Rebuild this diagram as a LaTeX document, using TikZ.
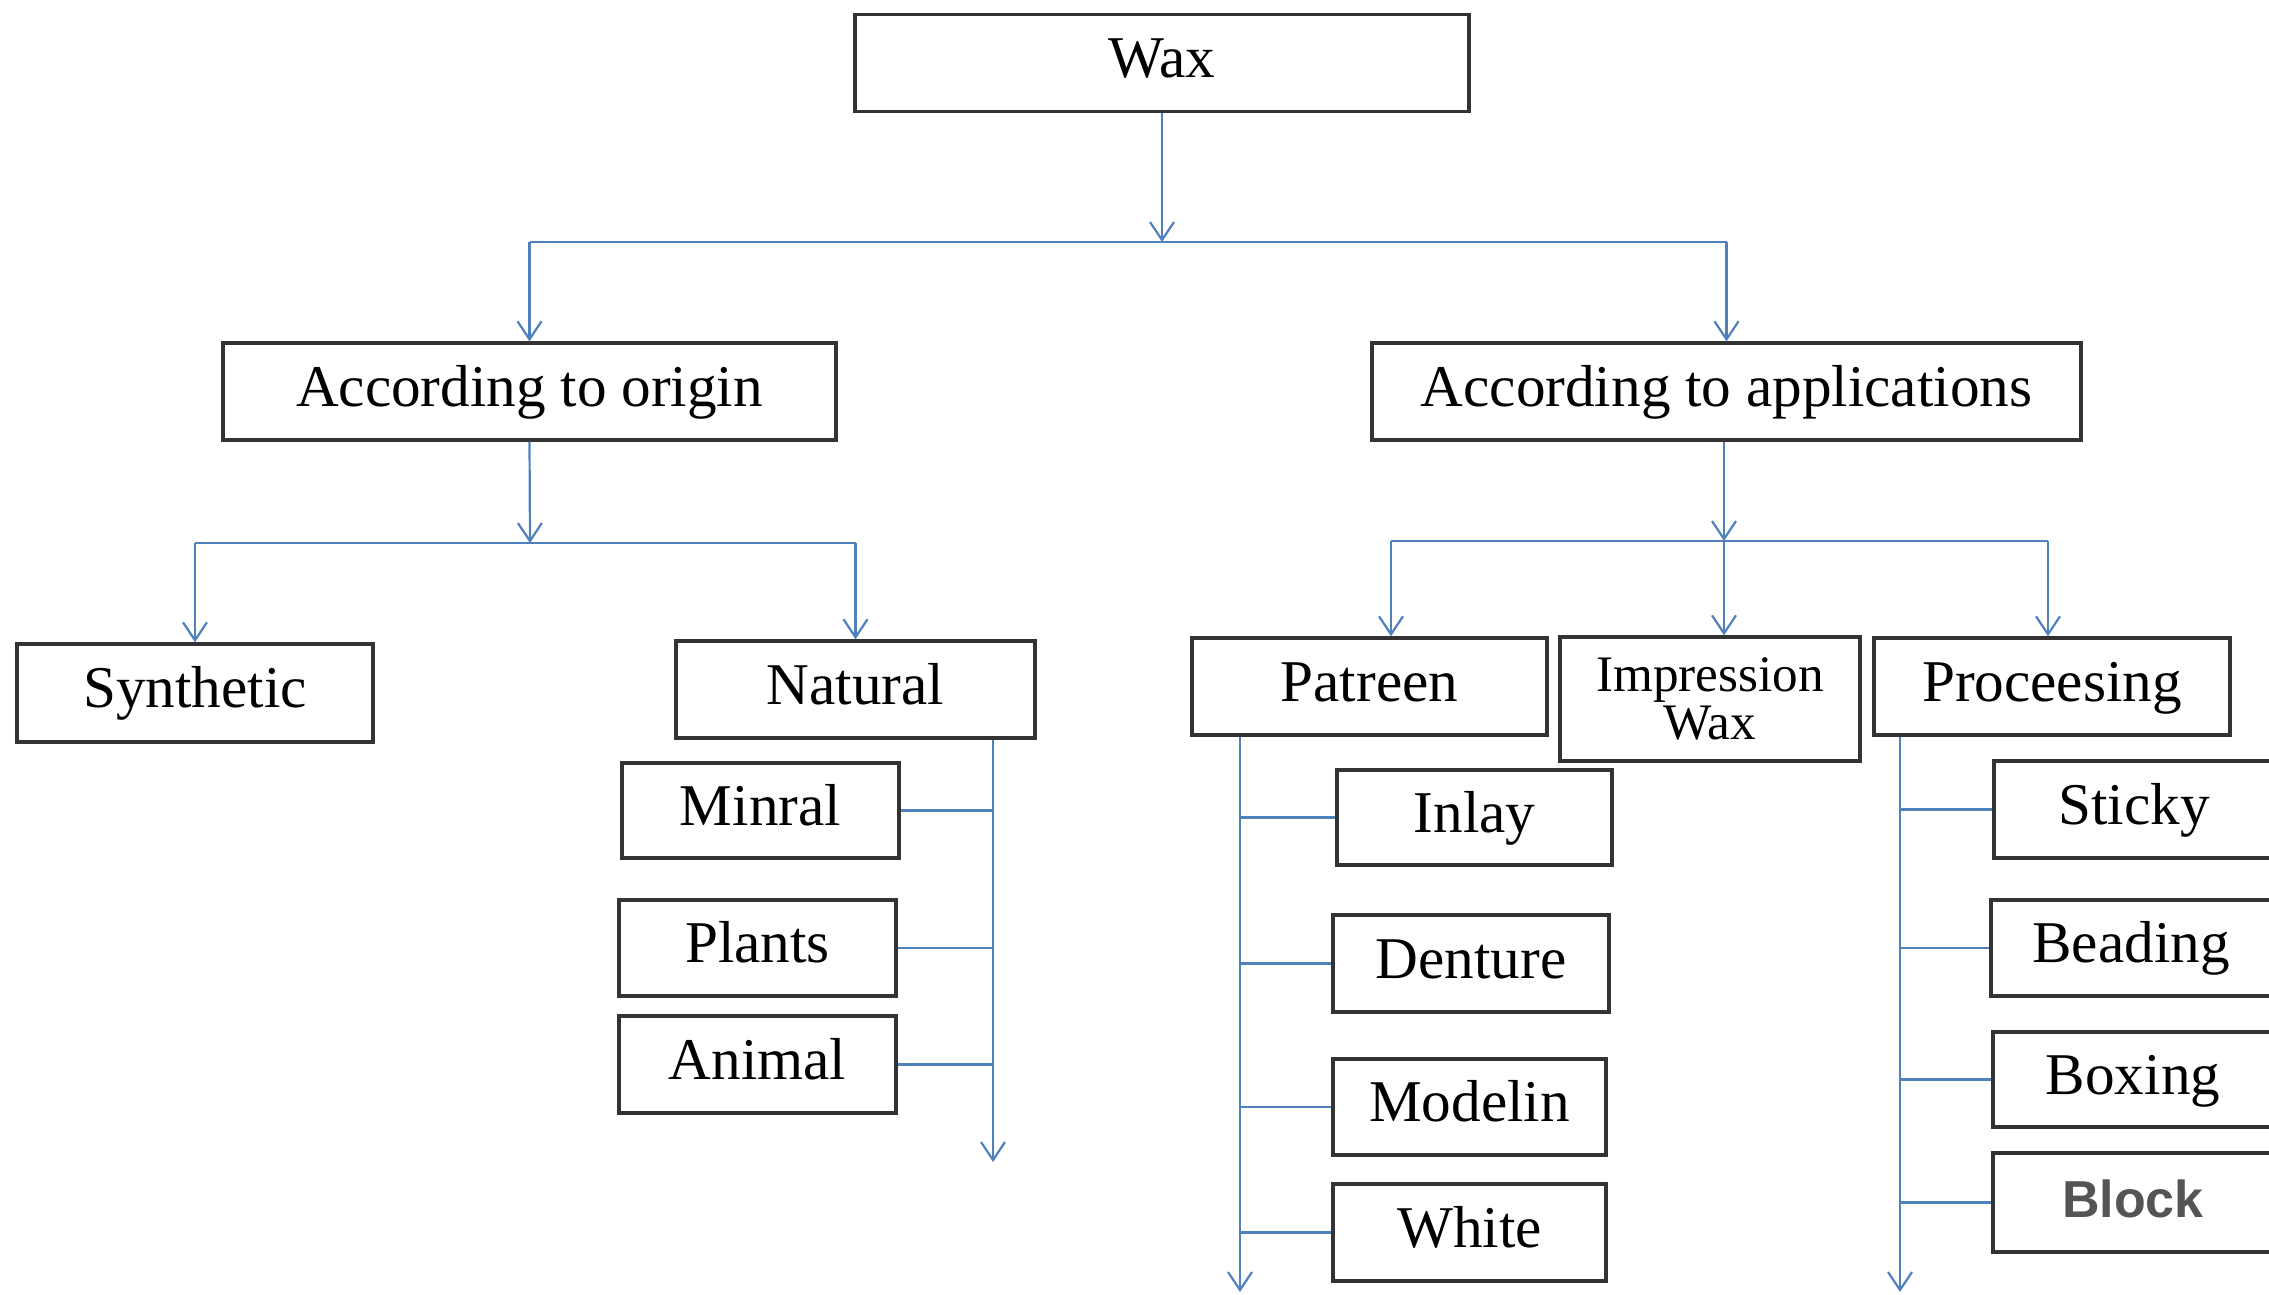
\documentclass[tikz,border=0pt]{standalone}
\usepackage{fontspec}
\setmainfont{Liberation Serif}
\newfontfamily\blockfont{Liberation Sans}
\usetikzlibrary{arrows.meta}
\definecolor{conn}{HTML}{4F81BD}
\definecolor{edge}{HTML}{333333}
\begin{document}
\begin{tikzpicture}[x=0.25pt,y=-0.25pt,
  bw/.style={minimum width=#1*0.25pt},
  bh/.style={minimum height=#1*0.25pt},
  boxbase/.style={draw=edge, line width=0.85pt, fill=white, inner sep=0pt, font=\fontsize{14.8pt}{16pt}\selectfont, text=black},
  box/.style={boxbase, text height=10pt, text depth=2.7pt},
  link/.style={draw=conn, line width=0.55pt},
  arr/.style={link, -{Straight Barb[length=4.5pt,width=6pt]}}]
\fill[white] (0,0) rectangle (2269,1295);
\useasboundingbox (0,0) rectangle (2269,1295);

% boxes
\node[box,bw=614,bh=97] (wax) at (1162,63) {Wax};
\node[box,bw=613,bh=97] (origin) at (529.5,391.5) {According to origin};
\node[box,bw=709,bh=97] (apps) at (1726.5,391.5) {According to applications};
\node[box,bw=356,bh=98] (synthetic) at (195,693) {Synthetic};
\node[box,bw=359,bh=97] (natural) at (855.5,689.5) {Natural};
\node[box,bw=277,bh=95] (minral) at (760.5,810.5) {Minral};
\node[box,bw=277,bh=96] (plants) at (757.5,948) {Plants};
\node[box,bw=277,bh=97] (animal) at (757.5,1064.5) {Animal};
\node[box,bw=355,bh=97] (patreen) at (1369.5,686.5) {Patreen};
\node[boxbase,bw=300,bh=124,align=center,font=\fontsize{12.8pt}{12.2pt}\selectfont] (impression) at (1710,699) {Impression\\Wax};
\node[box,bw=356,bh=97] (processing) at (2052,686.5) {Proceesing};
\node[box,bw=275,bh=95] (inlay) at (1474.5,817.5) {Inlay};
\node[box,bw=276,bh=97] (denture) at (1471,963.5) {Denture};
\node[box,bw=273,bh=96] (modelin) at (1469.5,1107) {Modelin};
\node[box,bw=273,bh=97] (white) at (1469.5,1232.5) {White};
\node[box,bw=280,bh=97] (sticky) at (2134,809.5) {Sticky};
\node[box,bw=280,bh=96] (beading) at (2131,948) {Beading};
\node[box,bw=280,bh=95] (boxing) at (2133,1079.5) {Boxing};
\node[box,bw=280,bh=99,font=\blockfont\bfseries\fontsize{13pt}{15pt}\selectfont,text={black!67}] (block) at (2133,1202.5) {Block};

% junction coordinates
\coordinate (j1) at (1162,242);
\coordinate (j2) at (530,543);
\coordinate (j3) at (1724,541);
\coordinate (pa) at (1391,541);
\coordinate (pc) at (2048,541);
\coordinate (ntend) at (993,1162);
\coordinate (ptend) at (1240,1292);
\coordinate (prend) at (1900,1292);

% level 1
\draw[arr] (wax.south) -- (j1);
\draw[link] (origin.north |- j1) -- (apps.north |- j1);
\draw[arr] (origin.north |- j1) -- (origin.north);
\draw[arr] (apps.north |- j1) -- (apps.north);

% origin branch
\draw[arr] (origin.south) -- (j2);
\draw[link] (synthetic.north |- j2) -- (natural.north |- j2);
\draw[arr] (synthetic.north |- j2) -- (synthetic.north);
\draw[arr] (natural.north |- j2) -- (natural.north);

% natural sub-list
\draw[arr] (ntend |- natural.south) -- (ntend);
\draw[link] (minral.east) -- (minral.east -| ntend);
\draw[link] (plants.east) -- (plants.east -| ntend);
\draw[link] (animal.east) -- (animal.east -| ntend);

% applications branch
\draw[arr] (j3 |- apps.south) -- (j3);
\draw[link] (pa) -- (pc);
\draw[arr] (pa) -- (pa |- patreen.north);
\draw[arr] (j3) -- (j3 |- impression.north);
\draw[arr] (pc) -- (pc |- processing.north);

% patreen sub-list
\draw[arr] (ptend |- patreen.south) -- (ptend);
\draw[link] (inlay.west) -- (inlay.west -| ptend);
\draw[link] (denture.west) -- (denture.west -| ptend);
\draw[link] (modelin.west) -- (modelin.west -| ptend);
\draw[link] (white.west) -- (white.west -| ptend);

% processing sub-list
\draw[arr] (prend |- processing.south) -- (prend);
\draw[link] (sticky.west) -- (sticky.west -| prend);
\draw[link] (beading.west) -- (beading.west -| prend);
\draw[link] (boxing.west) -- (boxing.west -| prend);
\draw[link] (block.west) -- (block.west -| prend);
\end{tikzpicture}
\end{document}
